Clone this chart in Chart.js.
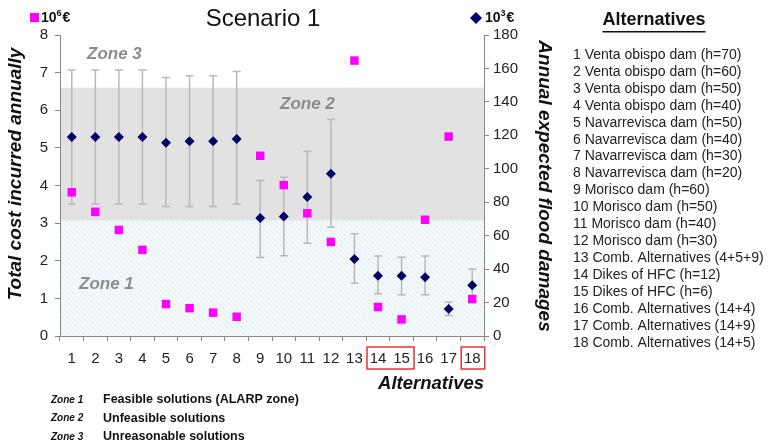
<!DOCTYPE html>
<html><head><meta charset="utf-8">
<script src="https://cdn.jsdelivr.net/npm/chart.js@4/dist/chart.umd.min.js"></script>
<style>html,body{margin:0;padding:0;background:#fff}#wrap{width:769px;height:448px}</style>
</head><body><div id="wrap"><canvas id="c" width="769" height="448"></canvas></div>
<script>
const categories = ['1','2','3','4','5','6','7','8','9','10','11','12','13','14','15','16','17','18'];
const totalCost = [3.82,3.30,2.82,2.29,0.85,0.74,0.62,0.51,4.79,4.01,3.26,2.50,7.32,0.77,0.44,3.09,5.30,0.98];
const floodDamages = [119,119,119,119,115.5,116.4,116.4,117.8,70.5,71.5,83.1,97,46,36.1,36.1,35.2,16.2,30.4];
const errLow = [79,79,79,79,77.5,77.5,77.5,79,47,48,55.5,65,31.6,25.3,24.6,24.6,12.2,20.6];
const errHigh = [159,159,159,159,154.6,155.6,155.6,158.2,93,95,110.4,129.4,61.1,47.9,47.1,47.9,20.4,40.1];
const leftTicks = [0,1,2,3,4,5,6,7,8];
const rightTicks = [0,20,40,60,80,100,120,140,160,180];
const zone1Top = 3.07, zone2Top = 6.6;
const alternatives = ['1 Venta obispo dam (h=70)','2 Venta obispo dam (h=60)','3 Venta obispo dam (h=50)','4 Venta obispo dam (h=40)','5 Navarrevisca dam (h=50)','6 Navarrevisca dam (h=40)','7 Navarrevisca dam (h=30)','8 Navarrevisca dam (h=20)','9 Morisco dam (h=60)','10 Morisco dam (h=50)','11 Morisco dam (h=40)','12 Morisco dam (h=30)','13 Comb. Alternatives (4+5+9)','14 Dikes of HFC (h=12)','15 Dikes of HFC (h=6)','16 Comb. Alternatives (14+4)','17 Comb. Alternatives (14+9)','18 Comb. Alternatives (14+5)'];
const zoneNotes = [['Zone 1','Feasible solutions (ALARP zone)'],['Zone 2','Unfeasible solutions'],['Zone 3','Unreasonable solutions']];
const highlighted = [[14,15],[18,18]];

const F = 'Arial, "Liberation Sans", sans-serif';

function hatch(ctx){
  const p = document.createElement('canvas'); p.width = 5; p.height = 5;
  const g = p.getContext('2d');
  g.fillStyle = '#f3f9fb'; g.fillRect(0,0,5,5);
  g.strokeStyle = '#e2edf1'; g.lineWidth = 1;
  g.beginPath(); g.moveTo(0,0); g.lineTo(5,5); g.moveTo(-1,4); g.lineTo(1,6); g.moveTo(4,-1); g.lineTo(6,1); g.stroke();
  return ctx.createPattern(p,'repeat');
}

const zonesPlugin = {
  id:'zones',
  beforeDraw(chart){
    const {ctx, chartArea:a, scales:{y}} = chart;
    ctx.save();
    const y0 = y.getPixelForValue(0), y1 = y.getPixelForValue(zone1Top), y2 = y.getPixelForValue(zone2Top);
    ctx.fillStyle = hatch(ctx);
    ctx.fillRect(a.left, y1, a.right-a.left, y0-y1);
    ctx.fillStyle = '#e2e2e2';
    ctx.fillRect(a.left, y2, a.right-a.left, y1-y2);
    ctx.restore();
  },
  beforeDatasetsDraw(chart){
    const {ctx, scales:{x, y1}} = chart;
    ctx.save();
    ctx.strokeStyle = '#b9b9b9'; ctx.lineWidth = 1.5;
    categories.forEach((c,i)=>{
      const px = x.getPixelForValue(i);
      const t = y1.getPixelForValue(errHigh[i]), b = y1.getPixelForValue(errLow[i]);
      ctx.beginPath();
      ctx.moveTo(px,t); ctx.lineTo(px,b);
      ctx.moveTo(px-4,t); ctx.lineTo(px+4,t);
      ctx.moveTo(px-4,b); ctx.lineTo(px+4,b);
      ctx.stroke();
    });
    ctx.restore();
  },
  afterDraw(chart){
    const {ctx, chartArea:a, scales:{x,y}} = chart;
    ctx.save();
    ctx.textBaseline = 'middle';
    // title
    ctx.fillStyle = '#111'; ctx.font = '24px '+F; ctx.textAlign = 'center';
    ctx.fillText('Scenario 1', 263, 19);
    // unit labels
    ctx.fillStyle = '#ff00ff'; ctx.fillRect(30,13,9,9);
    ctx.fillStyle = '#111'; ctx.font = 'bold 14px '+F; ctx.textAlign = 'left';
    ctx.fillText('10', 41, 18);
    let w = ctx.measureText('10').width;
    ctx.font = 'bold 9px '+F; ctx.fillText('6', 41+w, 14);
    let w2 = ctx.measureText('6').width;
    ctx.font = 'bold 14px '+F; ctx.fillText('€', 41+w+w2+1, 18);
    ctx.fillStyle = '#000066';
    ctx.beginPath(); ctx.moveTo(476,12); ctx.lineTo(482,18); ctx.lineTo(476,24); ctx.lineTo(470,18); ctx.closePath(); ctx.fill();
    ctx.fillStyle = '#111';
    ctx.fillText('10', 485, 18);
    w = ctx.measureText('10').width;
    ctx.font = 'bold 9px '+F; ctx.fillText('3', 485+w, 14);
    w2 = ctx.measureText('3').width;
    ctx.font = 'bold 14px '+F; ctx.fillText('€', 485+w+w2+1, 18);
    // axis titles
    ctx.font = 'italic bold 19px '+F; ctx.textAlign = 'center'; ctx.fillStyle = '#111';
    ctx.save(); ctx.translate(16, 174); ctx.rotate(-Math.PI/2); ctx.fillText('Total cost incurred annually', 0, 0); ctx.restore();
    ctx.save(); ctx.translate(544, 186); ctx.rotate(Math.PI/2); ctx.fillText('Annual expected flood damages', 0, 0); ctx.restore();
    ctx.textAlign = 'right'; ctx.font = 'italic bold 18.5px '+F;
    ctx.fillText('Alternatives', a.right, 384);
    // zone labels
    ctx.fillStyle = '#8c8c8c'; ctx.font = 'italic bold 17px '+F; ctx.textAlign = 'left';
    ctx.fillText('Zone 3', 87, 54);
    ctx.fillText('Zone 2', 280, 104);
    ctx.fillText('Zone 1', 79, 284);
    // red boxes
    ctx.strokeStyle = '#e53333'; ctx.lineWidth = 1.5;
    highlighted.forEach(([s,e])=>{
      const l = x.getPixelForValue(s-1) - 11, r = x.getPixelForValue(e-1) + 12.5;
      ctx.strokeRect(l, 347, r-l, 22);
    });
    // legend list
    ctx.fillStyle = '#111'; ctx.textAlign = 'center'; ctx.font = 'bold 18px '+F;
    ctx.fillText('Alternatives', 654, 20);
    const tw = ctx.measureText('Alternatives').width;
    ctx.fillRect(654-tw/2, 31, tw, 1.5);
    ctx.textAlign = 'left'; ctx.font = '14px '+F; ctx.fillStyle = '#222';
    alternatives.forEach((t,i)=> ctx.fillText(t, 573, 55 + i*16.94));
    // zone notes
    zoneNotes.forEach(([z,d],i)=>{
      const yy = 400 + i*18.5;
      ctx.fillStyle = '#111';
      ctx.font = 'italic bold 10px '+F; ctx.fillText(z, 51, yy);
      ctx.font = 'bold 12.5px '+F; ctx.fillText(d, 103, yy);
    });
    ctx.restore();
  }
};

new Chart(document.getElementById('c'), {
  type:'line',
  data:{
    labels: categories,
    datasets:[
      {label:'Total cost', data: totalCost, yAxisID:'y', showLine:false, pointStyle:'rect', pointRadius:6, pointHoverRadius:6, backgroundColor:'#ff00ff', borderColor:'#ff00ff', borderWidth:0},
      {label:'Flood damages', data: floodDamages, yAxisID:'y1', showLine:false, pointStyle:'rectRot', pointRadius:5, pointHoverRadius:5, backgroundColor:'#000066', borderColor:'#000066', borderWidth:0}
    ]
  },
  options:{
    responsive:false, animation:false, events:[],
    layout:{padding:{top:35,left:0,right:0,bottom:0}},
    plugins:{legend:{display:false}, tooltip:{enabled:false}, title:{display:false}},
    scales:{
      x:{
        type:'category', offset:true,
        grid:{display:true, offset:true, drawOnChartArea:false, drawTicks:true, tickLength:5, color:'#888'},
        border:{color:'#888', width:1},
        ticks:{color:'#222', font:{family:F, size:15}, padding:9, autoSkip:false, maxRotation:0},
        afterFit(s){ s.height = 112; }
      },
      y:{
        position:'left', min:0, max:8,
        afterBuildTicks(s){ s.ticks = leftTicks.map(v=>({value:v})); },
        grid:{drawOnChartArea:false, tickLength:5, color:'#888'},
        border:{color:'#888', width:1},
        ticks:{color:'#222', font:{family:F, size:15}, padding:7},
        afterFit(s){ s.width = 60; }
      },
      y1:{
        position:'right', min:0, max:180,
        afterBuildTicks(s){ s.ticks = rightTicks.map(v=>({value:v})); },
        grid:{drawOnChartArea:false, tickLength:5, color:'#888'},
        border:{color:'#888', width:1},
        ticks:{color:'#222', font:{family:F, size:15}, padding:4},
        afterFit(s){ s.width = 285; }
      }
    }
  },
  plugins:[zonesPlugin]
});
</script></body></html>
